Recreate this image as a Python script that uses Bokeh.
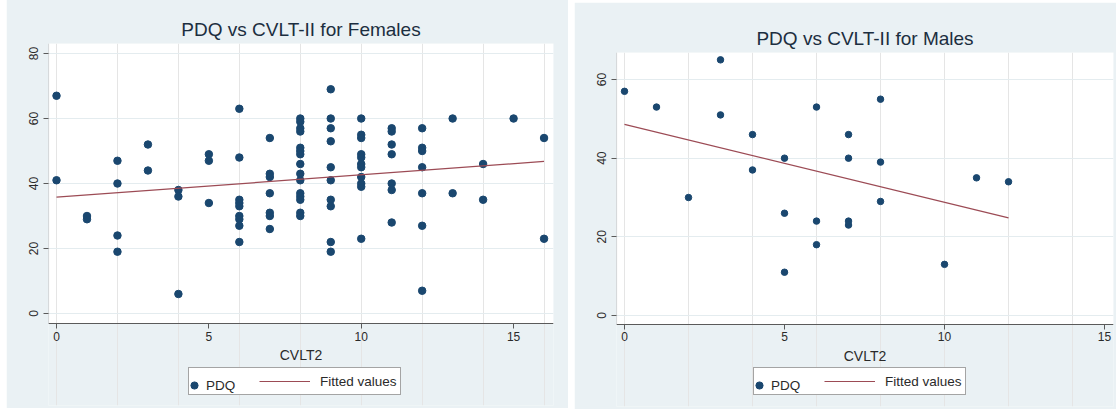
from bokeh.plotting import figure
from bokeh.layouts import row
from bokeh.models import Range1d, Legend, LegendItem, FixedTicker, LinearAxis, BoxAnnotation
from bokeh.embed import file_html
from bokeh.resources import INLINE

# ---------------- data ----------------
female_cvlt = [0, 0,
               1, 1,
               2, 2, 2, 2,
               3, 3,
               4, 4, 4,
               5, 5, 5,
               6, 6, 6, 6, 6, 6, 6, 6, 6,
               7, 7, 7, 7, 7, 7, 7,
               8, 8, 8, 8, 8, 8, 8, 8, 8, 8, 8, 8, 8, 8, 8,
               9, 9, 9, 9, 9, 9, 9, 9, 9, 9,
               10, 10, 10, 10, 10, 10, 10, 10, 10, 10, 10,
               11, 11, 11, 11, 11, 11, 11,
               12, 12, 12, 12, 12, 12, 12,
               13, 13,
               14, 14,
               15,
               16, 16]
female_pdq = [67, 41,
              30, 29,
              47, 40, 24, 19,
              52, 44,
              38, 36, 6,
              49, 47, 34,
              63, 48, 35, 34, 33, 30, 29, 27, 22,
              54, 43, 42, 37, 31, 30, 26,
              60, 59, 57, 56, 51, 50, 49, 46, 43, 41, 37, 36, 35, 31, 30,
              69, 60, 57, 53, 45, 41, 35, 33, 22, 19,
              60, 55, 54, 49, 48, 46, 45, 42, 40, 39, 23,
              57, 56, 52, 49, 40, 38, 28,
              57, 51, 50, 45, 37, 27, 7,
              60, 37,
              46, 35,
              60,
              54, 23]
female_fit_x = [0, 16]
female_fit_y = [35.8, 46.8]

male_cvlt = [0, 1, 2, 3, 3, 4, 4, 5, 5, 5, 6, 6, 6, 7, 7, 7, 7, 8, 8, 8, 10, 11, 12]
male_pdq = [57, 53, 30, 65, 51, 46, 37, 40, 26, 11, 53, 24, 18, 46, 40, 24, 23, 55, 39, 29, 13, 35, 34]
male_fit_x = [0, 12]
male_fit_y = [48.6, 24.8]

x_ticks = [0, 5, 10, 15]
female_y_ticks = [0, 20, 40, 60, 80]
male_y_ticks = [0, 20, 40, 60]

titles = ["PDQ vs CVLT-II for Females", "PDQ vs CVLT-II for Males"]
x_label = "CVLT2"
legend_labels = ["PDQ", "Fitted values"]

# ---------------- style ----------------
BG = "#eaf1f4"
NAVY = "#1a476f"
MAROON = "#9c4b55"
AXIS = "#5a5a5a"
TEXT = "#2a2a2a"
FONT = "Liberation Sans"


def make_panel(xs, ys, fx, fy, title, xr, yr, y_floor, yticks, width, height,
               borders, dot_size, leg_loc):
    left, right, top, bottom = borders
    p = figure(width=width, height=height, output_backend="svg",
               toolbar_location=None, x_range=Range1d(*xr), y_range=Range1d(*yr),
               min_border_left=left, min_border_right=right,
               min_border_top=top, min_border_bottom=bottom,
               background_fill_color=BG, border_fill_color=BG,
               outline_line_color=None, x_axis_location=None)
    p.title.text = title
    p.title.align = "center"
    p.title.text_font = FONT
    p.title.text_font_size = "19px"
    p.title.text_font_style = "normal"
    p.title.text_color = "#1c2e40"
    p.title.standoff = 8

    # white plot region (above the x axis)
    p.add_layout(BoxAnnotation(bottom=y_floor, fill_color="white", fill_alpha=1,
                               line_color=None, line_alpha=0, level="image"))
    # y axis rule, limited to the plot region
    p.add_layout(BoxAnnotation(left=xr[0], right=xr[0] + 0.004, bottom=y_floor,
                               fill_alpha=0, line_color=AXIS, line_width=0.7,
                               level="guide"))

    xaxis = LinearAxis(fixed_location=y_floor)
    p.add_layout(xaxis, "below")

    for ax in (xaxis, p.yaxis[0]):
        ax.axis_line_color = AXIS
        ax.axis_line_width = 1.2
        ax.major_tick_line_color = AXIS
        ax.major_tick_in = 0
        ax.major_tick_out = 5
        ax.minor_tick_line_color = None
        ax.major_label_text_font = FONT
        ax.major_label_text_font_size = "12px"
        ax.major_label_text_color = TEXT
    p.yaxis.axis_line_color = None
    xaxis.ticker = FixedTicker(ticks=x_ticks)
    p.yaxis.ticker = FixedTicker(ticks=yticks)
    xaxis.major_label_standoff = 3
    p.yaxis.major_label_standoff = 5
    p.yaxis.major_label_orientation = "vertical"
    xaxis.axis_label = x_label
    xaxis.axis_label_text_font = FONT
    xaxis.axis_label_text_font_size = "14px"
    xaxis.axis_label_text_font_style = "normal"
    xaxis.axis_label_text_color = TEXT
    xaxis.axis_label_standoff = 3

    p.ygrid.grid_line_color = "#e4ecef"
    p.ygrid.grid_line_width = 1

    dots = p.scatter(xs, ys, size=dot_size, fill_color=NAVY, line_color=NAVY)
    line = p.line(fx, fy, line_color=MAROON, line_width=1.2)
    dummy = p.scatter([], [], fill_alpha=0, line_alpha=0)

    common = dict(orientation="horizontal", padding=3, glyph_height=20,
                  label_height=20, label_text_font=FONT,
                  label_text_font_size="13.5px", label_text_color=TEXT)
    leg_box = Legend(items=[LegendItem(label=" ", renderers=[dummy]),
                            LegendItem(label=legend_labels[1], renderers=[line])],
                     location=leg_loc, glyph_width=51, label_standoff=10,
                     label_width=0, spacing=6,
                     border_line_color="#4a4a4a", border_line_width=1,
                     background_fill_color="white", background_fill_alpha=1,
                     **common)
    leg_dot = Legend(items=[LegendItem(label=legend_labels[0], renderers=[dots])],
                     location=(leg_loc[0] - 3, leg_loc[1]), glyph_width=18,
                     label_standoff=3, label_width=0,
                     border_line_color=None, background_fill_alpha=0,
                     **common)
    p.add_layout(leg_box, "center")
    p.add_layout(leg_dot, "center")
    return p


f1 = make_panel(female_cvlt, female_pdq, female_fit_x, female_fit_y, titles[0],
                (-0.263, 16.31), (-28.31, 83.08), -3.08, female_y_ticks,
                562, 415, (42, 15, 50, 3), 7.5, (140, 10))
f2 = make_panel(male_cvlt, male_pdq, male_fit_x, male_fit_y, titles[1],
                (-0.25, 15.28), (-23.14, 66.87), -2.29, male_y_ticks,
                542, 407, (42, 3, 50, 3), 6.5, (137, 11))

f1.margin = (-7, 0, 0, 6)
f2.margin = (2, 0, 0, 6)

layout = row(f1, f2)
open("out.html", "w").write(file_html(layout, INLINE))
